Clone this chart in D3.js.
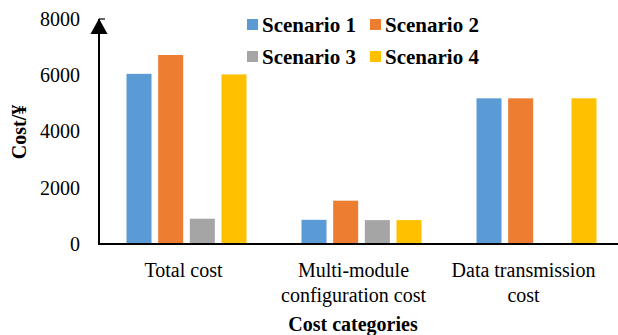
<!DOCTYPE html>
<html>
<head>
<meta charset="utf-8">
<script src="https://cdn.jsdelivr.net/npm/d3@7/dist/d3.min.js"></script>
<style>
  html, body { margin: 0; padding: 0; background: #fff; }
  svg { display: block; font-family: "Liberation Serif", "Times New Roman", serif; }
</style>
</head>
<body>
<div id="chart"></div>
<script>
const categories = [["Total cost"], ["Multi-module", "configuration cost"], ["Data transmission", "cost"]];
const categoryKeys = ["Total cost", "Multi-module configuration cost", "Data transmission cost"];
const seriesNames = ["Scenario 1", "Scenario 2", "Scenario 3", "Scenario 4"];
const scenario1 = [6050, 860, 5180];
const scenario2 = [6720, 1540, 5180];
const scenario3 = [900, 850, 30];
const scenario4 = [6030, 850, 5180];
const yTicks = [0, 2000, 4000, 6000, 8000];
const colors = ["#5B9BD5", "#ED7D31", "#A5A5A5", "#FFC000"];

const seriesValues = [scenario1, scenario2, scenario3, scenario4];
const W = 618, H = 335;
const svg = d3.select("#chart").append("svg").attr("width", W).attr("height", H);

const x0 = d3.scaleBand().domain(categoryKeys).range([99, 624]).padding(0);
const x1 = d3.scaleBand().domain(seriesNames).range([27.5, 147.5]).paddingInner(0.21).paddingOuter(0);
const xLabel = d3.scaleBand().domain(categoryKeys).range([98.5, 608.5]).padding(0);
const y = d3.scaleLinear().domain([0, 8000]).range([244, 19]);

// bars
const groups = svg.append("g").selectAll("g").data(categoryKeys).join("g")
  .attr("transform", d => `translate(${x0(d)},0)`);
groups.selectAll("rect")
  .data((d, i) => seriesNames.map((s, j) => ({ s, j, v: seriesValues[j][i] })))
  .join("rect")
  .attr("x", d => x1(d.s))
  .attr("width", x1.bandwidth())
  .attr("y", d => y(d.v))
  .attr("height", d => y(0) - y(d.v))
  .attr("fill", d => colors[d.j]);

// y axis
const yAxis = svg.append("g").attr("transform", "translate(99,0)")
  .call(d3.axisLeft(y).tickValues(yTicks).tickSize(0).tickPadding(19).tickFormat(d3.format("d")));
yAxis.attr("font-family", null);
yAxis.select(".domain").remove();
yAxis.selectAll("text").attr("font-size", 20).attr("fill", "#000")
  .attr("font-family", "Liberation Serif");
svg.append("line").attr("x1", 99).attr("x2", 99).attr("y1", y(8000)).attr("y2", y(0) + 1)
  .attr("stroke", "#000").attr("stroke-width", 2);
svg.append("line").attr("x1", 99).attr("x2", 105).attr("y1", y(8000)).attr("y2", y(8000))
  .attr("stroke", "#000").attr("stroke-width", 1.2);
// arrow head
svg.append("path")
  .attr("d", `M${99},${y(8000) - 0.5} L${107.5},${y(8000) + 15} L${90.5},${y(8000) + 15} Z`)
  .attr("fill", "#000");

// x axis line
svg.append("line").attr("x1", 98).attr("x2", W).attr("y1", y(0)).attr("y2", y(0))
  .attr("stroke", "#000").attr("stroke-width", 2);

// category labels
const lab = svg.append("g").selectAll("text").data(categories).join("text")
  .attr("text-anchor", "middle")
  .attr("font-size", 20)
  .attr("fill", "#000")
  .attr("x", (d, i) => xLabel(categoryKeys[i]) + xLabel.bandwidth() / 2)
  .attr("y", 277);
lab.selectAll("tspan").data(d => d).join("tspan")
  .attr("x", function () { return d3.select(this.parentNode).attr("x"); })
  .attr("dy", (d, i) => i === 0 ? 0 : 25)
  .text(d => d);

// axis titles
svg.append("text").attr("x", 353).attr("y", 331).attr("text-anchor", "middle")
  .attr("font-size", 20).attr("font-weight", "bold").text("Cost categories");
svg.append("text").attr("transform", "translate(26,132) rotate(-90)")
  .attr("text-anchor", "middle").attr("font-size", 20).attr("font-weight", "bold").text("Cost/¥");

// legend
const legPos = [[247, 19], [370, 19], [247, 51], [370, 51]];
const leg = svg.append("g").selectAll("g").data(seriesNames).join("g")
  .attr("transform", (d, i) => `translate(${legPos[i][0]},${legPos[i][1]})`);
leg.append("rect").attr("width", 11).attr("height", 11).attr("fill", (d, i) => colors[i]);
leg.append("text").attr("x", 15).attr("y", 12.5).attr("font-size", 21).attr("font-weight", "bold")
  .attr("fill", "#000").text(d => d);
</script>
</body>
</html>
